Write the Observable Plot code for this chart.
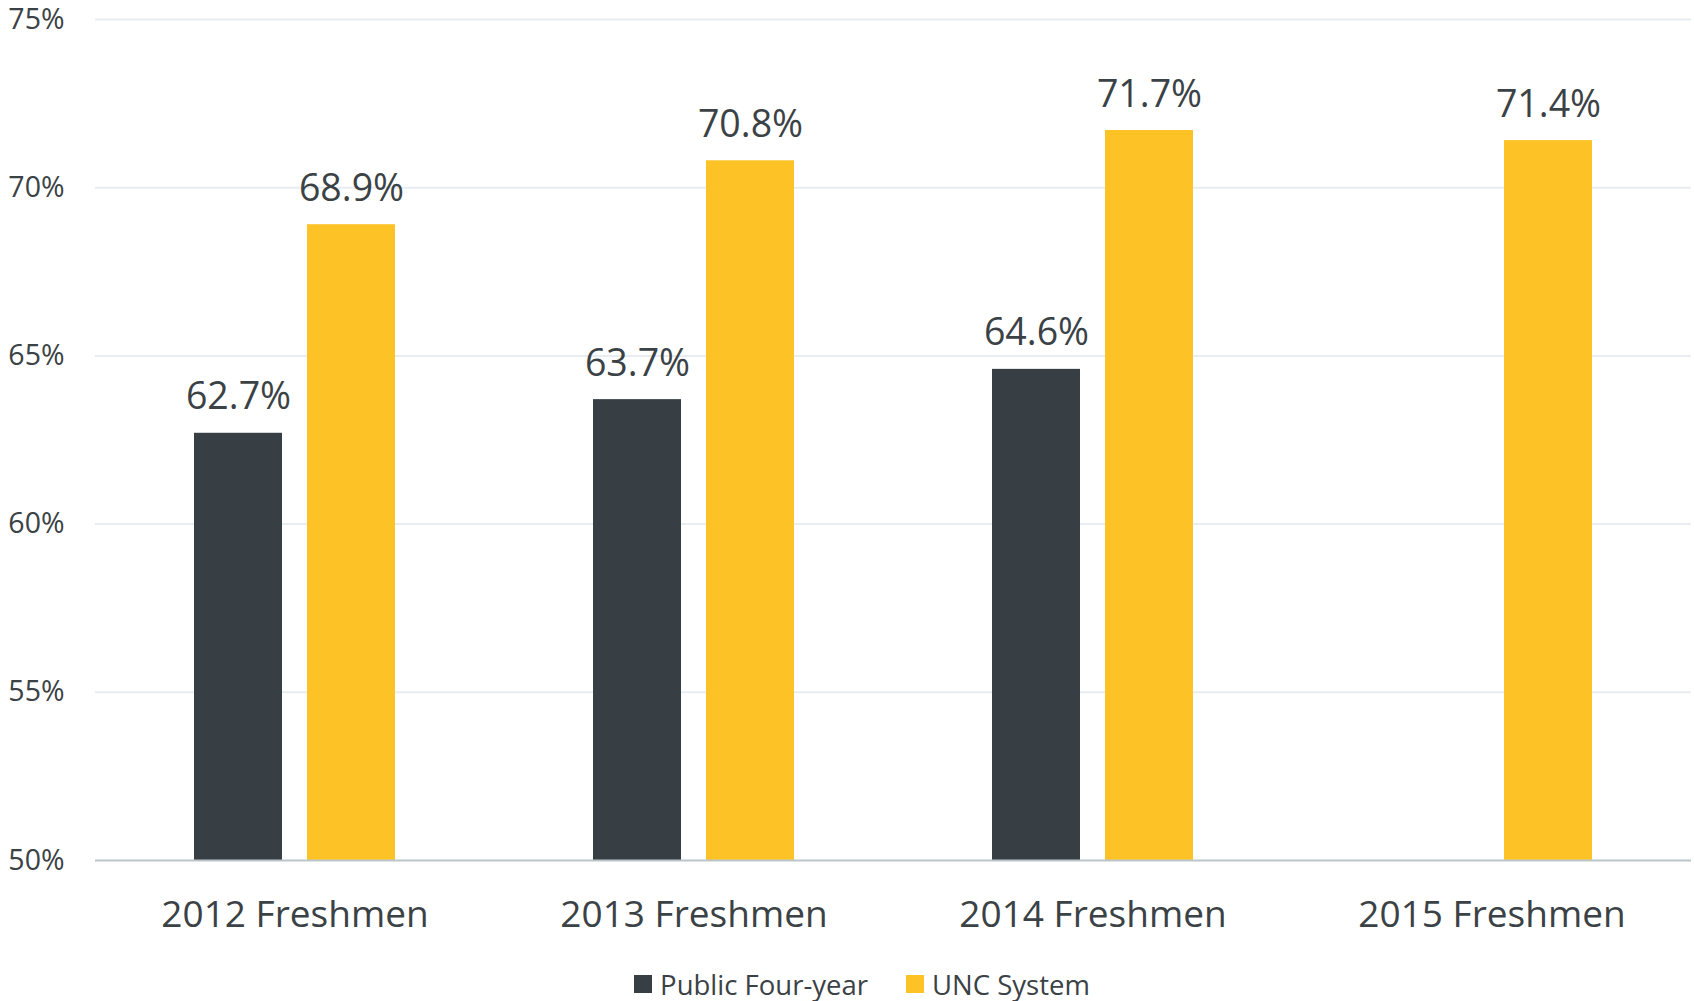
<!DOCTYPE html>
<html>
<head>
<meta charset="utf-8">
<script src="https://cdn.jsdelivr.net/npm/d3@7"></script>
<script src="https://cdn.jsdelivr.net/npm/@observablehq/plot@0.6"></script>
<style>
  html, body { margin: 0; padding: 0; background: #fff; }
  body { width: 1694px; font-family: "Open Sans", sans-serif; color: #3b4246; }
  #chart svg { display: block; overflow: visible; }
  #chart [aria-label^="y-axis"] text { font-size: 28.5px; }
  #chart [aria-label^="fx-axis"] text { font-size: 37px; }
  #legend { display: flex; justify-content: center; align-items: center; height: 88px; font-size: 27.5px; gap: 38px; padding-left: 30px; }
  .item { display: flex; align-items: center; gap: 8px; }
  .sw { width: 18px; height: 18px; display: inline-block; }
</style>
</head>
<body>
<div id="chart"></div>
<div id="legend"></div>
<script>
const categories = ["2012 Freshmen", "2013 Freshmen", "2014 Freshmen", "2015 Freshmen"];
const series = ["Public Four-year", "UNC System"];
const publicFourYear = [62.7, 63.7, 64.6, null];
const uncSystem = [68.9, 70.8, 71.7, 71.4];
const yTicks = [50, 55, 60, 65, 70, 75];
const colors = ["#373f45", "#fdc326"];

const rows = [];
categories.forEach((c, i) => {
  [publicFourYear, uncSystem].forEach((arr, j) => {
    if (arr[i] != null) rows.push({category: c, series: series[j], value: arr[i]});
  });
});

const plot = Plot.plot({
  width: 1694,
  height: 940,
  marginLeft: 95,
  marginRight: 3,
  marginTop: 19,
  marginBottom: 80,
  style: {fontFamily: "Open Sans, sans-serif", color: "#3b4246", background: "#fff"},
  facet: {data: rows, x: "category"},
  fx: {domain: categories, padding: 0, tickSize: 0, tickPadding: 40, label: null, axis: "bottom"},
  x: {domain: series, paddingInner: 0.219, paddingOuter: 0.86, axis: null},
  y: {domain: [yTicks[0], yTicks[yTicks.length - 1]], ticks: yTicks, tickFormat: d => d + "%", tickSize: 0, tickPadding: 31, label: null},
  color: {domain: series, range: colors},
  marks: [
    Plot.ruleY(yTicks.slice(1), {stroke: "#e8edef", strokeWidth: 2}),
    Plot.barY(rows, {x: "series", y1: yTicks[0], y2: "value", fill: "series"}),
    Plot.ruleY([yTicks[0]], {stroke: "#bcc5cb", strokeWidth: 2}),
    Plot.text(rows, {x: "series", y: "value", text: d => d.value.toFixed(1) + "%", lineAnchor: "bottom", dy: -24, fontSize: 37.5, fill: "#3b4246"})
  ]
});
document.getElementById("chart").appendChild(plot);

const legend = document.getElementById("legend");
series.forEach((s, i) => {
  const item = document.createElement("div");
  item.className = "item";
  const sw = document.createElement("span");
  sw.className = "sw";
  sw.style.background = colors[i];
  const t = document.createElement("span");
  t.textContent = s;
  item.appendChild(sw);
  item.appendChild(t);
  legend.appendChild(item);
});
</script>
</body>
</html>
